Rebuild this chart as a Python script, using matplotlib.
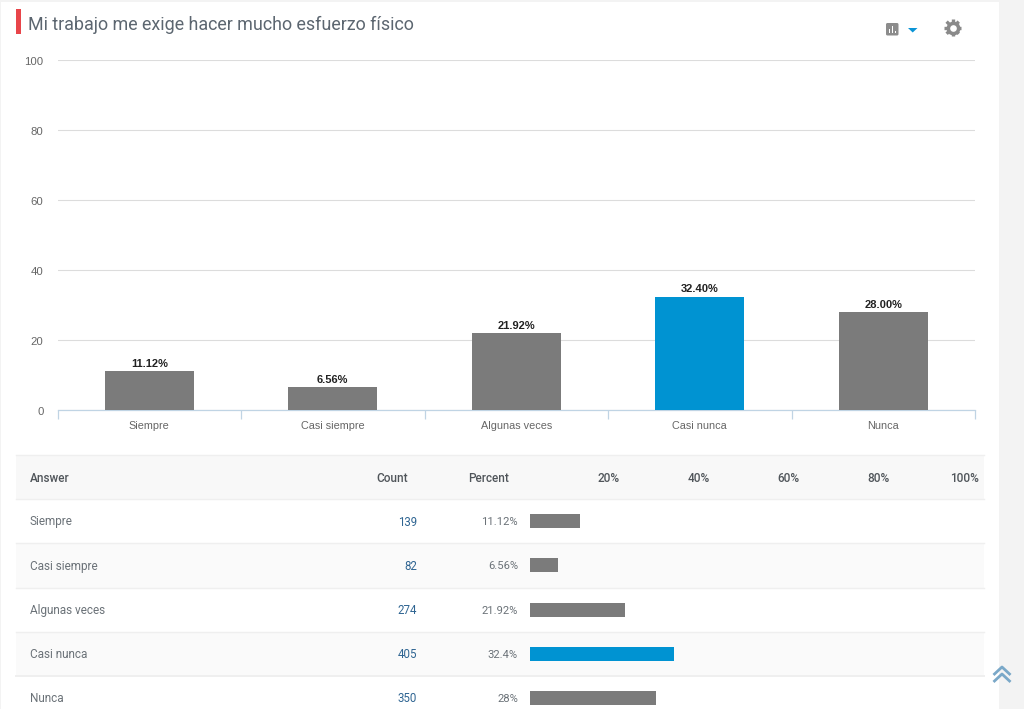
import matplotlib
matplotlib.use("Agg")
import matplotlib.pyplot as plt
from matplotlib.patches import Rectangle, Polygon, FancyBboxPatch
from matplotlib.transforms import ScaledTranslation

W, H = 1024, 709

title = "Mi trabajo me exige hacer mucho esfuerzo físico"
categories = ["Siempre", "Casi siempre", "Algunas veces", "Casi nunca", "Nunca"]
percent = [11.12, 6.56, 21.92, 32.40, 28.00]
bar_labels = ["11.12%", "6.56%", "21.92%", "32.40%", "28.00%"]
counts = ["139", "82", "274", "405", "350"]
table_percent = ["11.12%", "6.56%", "21.92%", "32.4%", "28%"]
table_bar_lengths = [11.3, 6.3, 21.3, 32.4, 28.4]
y_ticks = [0, 20, 40, 60, 80, 100]
scale_ticks = [20, 40, 60, 80, 100]
highlight = "Casi nunca"

GREY, BLUE = "#7b7b7b", "#0093d2"
colors = [BLUE if c == highlight else GREY for c in categories]
CHART_FONT = "Liberation Sans"
UI_FONT = "Roboto"
STEP = 44.25


def axes_px(left, top, right, bottom, **kw):
    return fig.add_axes([left / W, 1 - bottom / H, (right - left) / W, (bottom - top) / H], **kw)


fig = plt.figure(figsize=(W / 100, H / 100), dpi=100, facecolor="white")

# page furniture, in pixel coordinates
bg = axes_px(0, 0, W, H, zorder=0)
bg.set_xlim(0, W)
bg.set_ylim(H, 0)
bg.axis("off")
bg.add_patch(Rectangle((999, 0), 25, H, fc="#f3f3f3", ec="none"))
bg.add_patch(Rectangle((0, 0), 999, 1.5, fc="#f3f3f3", ec="none"))
bg.add_patch(Rectangle((0, 0), 1, H, fc="#f3f3f3", ec="none"))
bg.add_patch(Rectangle((16, 9), 5, 25, fc="#e8454a", ec="none"))
bg.text(28, 24.5, title, fontsize=12.9, family=UI_FONT, color="#5c6670", va="center", ha="left")

# icons
bg.add_patch(FancyBboxPatch((887, 24), 10.5, 10.5, boxstyle="round,pad=1,rounding_size=1.5", fc="#8c8c8c", ec="none"))
for dx, top in [(2.5, 29), (5.5, 26), (8.5, 31)]:
    bg.add_patch(Rectangle((886 + dx, top), 1.6, 33 - top, fc="white", ec="none"))
bg.add_patch(Polygon([(908, 28), (917.5, 28), (912.7, 32.5)], fc="#0a94d6", ec="none"))
gx, gy, gr = 952.7, 27.7, 8.6
for dx, dy in [(1, 0), (0, 1), (0.707, 0.707), (0.707, -0.707)]:
    bg.plot([gx - gr * dx, gx + gr * dx], [gy - gr * dy, gy + gr * dy], color="#8a8a8a", lw=2.4, solid_capstyle="butt")
bg.plot([gx], [gy], marker="o", ms=10, color="#8a8a8a", mew=0)
bg.plot([gx], [gy], marker="o", ms=4.8, color="white", mew=0)
for off in (0, 7):
    bg.plot([994.5, 1002, 1009.5], [674 + off, 667 + off, 674 + off], color="#7aa8c8", lw=2)

# table bands
for i in (1, 3):
    bg.add_patch(Rectangle((16, 499 + STEP * i), 968, STEP, fc="#fafafa", ec="none"))
bg.add_patch(Rectangle((16, 455), 968, 44, fc="#f8f8f8", ec="none"))
for i, y in enumerate((455, 499, 543.3, 587.6, 631.5, 676)):
    bg.plot([16, 984], [y, y], color="#efefef", lw=1.4 if i == 5 else 1)

# table text
HEAD = "#50555a"
TXT = "#6b7278"
HEAD_KW = dict(fontsize=8.5, family=UI_FONT, weight="medium", color=HEAD, va="center")
bg.text(30, 478, "Answer", **HEAD_KW)
bg.text(408, 478, "Count", ha="right", **HEAD_KW)
bg.text(509, 478, "Percent", ha="right", **HEAD_KW)
for t in scale_ticks:
    bg.text(530.25 + 4.4875 * t, 478, f"{t}%", ha="right", **HEAD_KW)
for i, cat in enumerate(categories):
    y = 522 + STEP * i
    bg.text(30, y, cat, fontsize=8.45, family=UI_FONT, color=TXT, va="center")
    bg.text(417, y, counts[i], fontsize=8.3, family=UI_FONT, color="#2f6592", va="center", ha="right")
    bg.text(518, y, table_percent[i], fontsize=8.1, family=UI_FONT, color=TXT, va="center", ha="right")

# main column chart
ax = axes_px(57.5, 60, 975, 410, zorder=2)
ax.patch.set_alpha(0)
x = list(range(len(categories)))
ax.bar(x, percent, width=0.485, color=colors, zorder=3)
ax.set_xlim(-0.5, len(categories) - 0.5)
ax.set_ylim(0, 100)
for s in ("top", "right", "left"):
    ax.spines[s].set_visible(False)
ax.spines["bottom"].set_color("#c0d4e4")
ax.spines["bottom"].set_linewidth(0.9)
ax.set_yticks(y_ticks)
ax.yaxis.grid(True, color="#dcdcdc", lw=0.8, zorder=0)
ax.set_axisbelow(True)
ax.tick_params(axis="y", length=0, pad=10, labelsize=8.2, labelcolor="#666666")
shift = ScaledTranslation(0, -1 / 100, fig.dpi_scale_trans)
for lab in ax.get_yticklabels():
    lab.set_family(CHART_FONT)
    lab.set_transform(lab.get_transform() + shift)
ax.set_xticks([v - 0.5 for v in x] + [len(categories) - 0.5])
ax.set_xticklabels([])
ax.tick_params(axis="x", length=6.8, width=0.9, color="#c0d4e4")
for i, cat in enumerate(categories):
    ax.annotate(cat, (i, 0), xytext=(0, -16), textcoords="offset pixels", ha="center", va="center",
                fontsize=7.8, family=CHART_FONT, color="#666666", annotation_clip=False)
    ax.annotate(bar_labels[i], (i, percent[i]), xytext=(0, 7.5), textcoords="offset pixels", ha="center",
                va="center", fontsize=8.0, family=CHART_FONT, weight="bold", color="#222222")

# inline table bars
mini = axes_px(530, 499, 974, H, zorder=2)
mini.axis("off")
mini.set_xlim(0, 100)
mini.set_ylim((H - 499) / STEP - 0.5, -0.5)
mini.barh(x, table_bar_lengths, height=14 / STEP, color=colors)

fig.savefig("out.png", dpi=100, facecolor="white")
